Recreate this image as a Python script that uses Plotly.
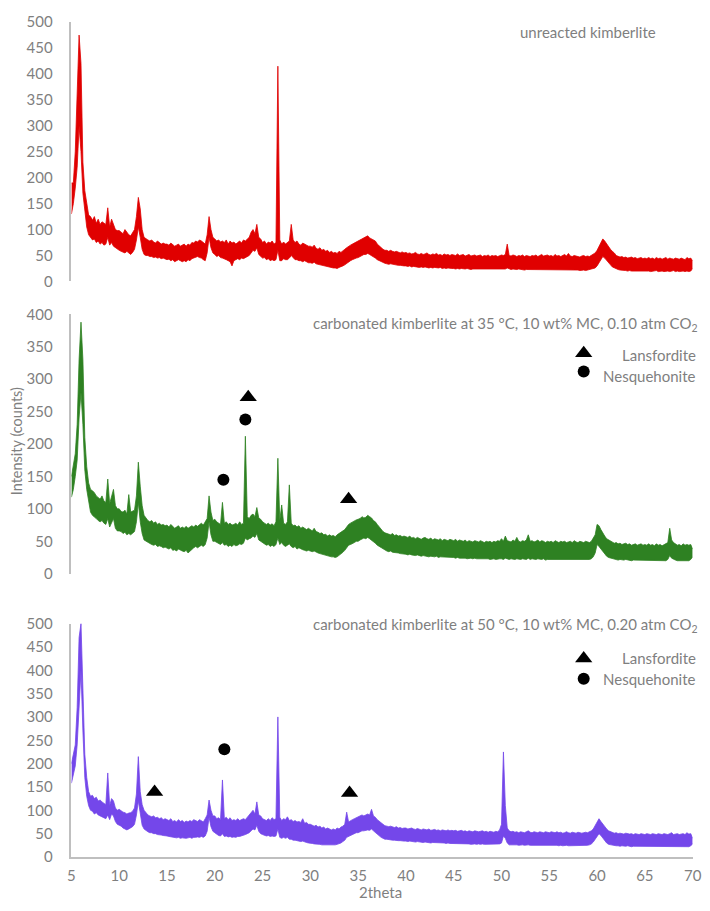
import numpy as np
import plotly.graph_objects as go

# 2theta sampling grid (degrees), 0.2 step from 5 to 70
two_theta = np.round(np.arange(5.0, 70.0001, 0.2), 1)

# unreacted kimberlite: upper and lower edge of the noisy trace (counts)
unreacted_hi = [
    190, 190, 250, 380, 475, 420, 230, 175, 150, 128, 125, 118, 125, 112, 120, 110, 115, 112, 110, 142, 105, 120, 110, 100, 98,
    98, 95, 92, 100, 95, 90, 88, 95, 100, 125, 162, 140, 100, 85, 82, 80, 78, 80, 76, 74, 78, 75, 72, 74, 72,
    72, 70, 74, 70, 68, 70, 72, 68, 70, 72, 68, 72, 70, 75, 74, 78, 76, 80, 78, 75, 72, 90, 125, 100, 85,
    82, 78, 80, 76, 78, 75, 80, 72, 78, 74, 76, 72, 75, 78, 74, 80, 78, 82, 85, 95, 100, 92, 110, 85, 82,
    75, 78, 72, 76, 74, 78, 72, 75, 415, 80, 72, 76, 72, 75, 78, 110, 80, 75, 78, 72, 70, 74, 72, 70, 68,
    68, 66, 70, 64, 62, 65, 60, 62, 58, 60, 56, 58, 55, 56, 54, 58, 56, 60, 62, 65, 68, 70, 72, 74, 76,
    78, 80, 82, 84, 85, 88, 84, 82, 80, 78, 72, 68, 65, 62, 60, 60, 58, 60, 58, 57, 58, 56, 55, 57, 55,
    56, 54, 55, 53, 54, 56, 53, 52, 54, 52, 53, 55, 52, 51, 53, 52, 54, 51, 52, 50, 53, 51, 52, 50, 52,
    51, 50, 53, 50, 51, 52, 49, 50, 52, 49, 50, 51, 49, 50, 51, 48, 50, 49, 51, 48, 50, 49, 50, 48, 50,
    51, 50, 52, 72, 50, 49, 51, 50, 48, 50, 49, 51, 48, 50, 49, 48, 50, 49, 51, 48, 50, 52, 49, 50, 51,
    49, 50, 48, 52, 49, 50, 48, 50, 52, 49, 54, 49, 48, 50, 49, 48, 47, 49, 50, 48, 49, 48, 50, 52, 55,
    60, 68, 74, 82, 78, 72, 68, 62, 58, 55, 50, 49, 47, 48, 46, 47, 45, 46, 47, 45, 46, 44, 45, 46, 44,
    45, 44, 46, 44, 45, 43, 46, 44, 45, 43, 44, 46, 43, 45, 44, 43, 45, 44, 43, 45, 44, 42, 46, 44, 45,
    40,
]
unreacted_lo = [
    130, 150, 180, 220, 300, 250, 170, 130, 105, 90, 85, 80, 82, 75, 78, 72, 75, 70, 72, 85, 70, 75, 68, 65, 62,
    60, 58, 56, 55, 58, 55, 52, 56, 62, 80, 105, 85, 62, 52, 50, 50, 48, 48, 46, 47, 45, 46, 44, 45, 43,
    42, 43, 40, 42, 38, 40, 42, 40, 38, 40, 38, 42, 40, 44, 45, 46, 48, 46, 45, 42, 40, 55, 85, 65, 55,
    52, 48, 50, 46, 45, 44, 42, 40, 38, 30, 40, 42, 44, 42, 45, 44, 46, 48, 50, 55, 60, 58, 65, 52, 48,
    45, 46, 42, 44, 40, 42, 40, 42, 60, 40, 40, 44, 42, 42, 45, 50, 45, 42, 42, 40, 40, 38, 40, 38, 36,
    36, 35, 37, 34, 33, 32, 32, 30, 30, 28, 28, 27, 26, 26, 25, 27, 28, 30, 32, 35, 38, 40, 42, 44, 45,
    46, 48, 50, 52, 52, 54, 52, 50, 48, 45, 42, 40, 38, 36, 35, 34, 33, 34, 33, 32, 32, 31, 31, 30, 30,
    30, 29, 30, 28, 29, 28, 28, 27, 28, 27, 28, 27, 26, 27, 26, 27, 26, 26, 27, 25, 26, 25, 26, 25, 25,
    25, 24, 25, 24, 25, 24, 24, 25, 24, 23, 24, 24, 23, 24, 23, 24, 23, 23, 24, 23, 24, 23, 23, 24, 23,
    24, 23, 24, 26, 24, 23, 24, 23, 23, 24, 23, 23, 22, 23, 23, 22, 23, 22, 23, 22, 23, 23, 22, 23, 23,
    23, 22, 23, 23, 22, 23, 22, 22, 23, 22, 23, 22, 22, 23, 22, 22, 21, 22, 22, 21, 22, 22, 23, 24, 26,
    30, 36, 40, 48, 45, 40, 36, 32, 28, 26, 24, 23, 22, 22, 21, 21, 20, 21, 20, 20, 21, 20, 20, 21, 20,
    20, 21, 20, 19, 20, 20, 21, 19, 20, 20, 19, 20, 20, 19, 20, 21, 19, 20, 19, 20, 20, 19, 20, 19, 20,
    25,
]

# carbonated kimberlite, 35 C, 0.10 atm CO2 (counts)
carb35_hi = [
    150, 165, 185, 230, 330, 388, 330, 210, 165, 140, 130, 128, 125, 120, 118, 115, 120, 112, 110, 146, 108, 118, 130, 105, 100,
    100, 96, 95, 98, 92, 122, 95, 96, 98, 120, 172, 135, 105, 90, 86, 82, 80, 82, 78, 80, 76, 78, 75, 76, 74,
    75, 72, 76, 73, 70, 72, 74, 70, 72, 70, 73, 70, 72, 74, 72, 75, 73, 76, 78, 75, 80, 85, 120, 95, 82,
    84, 80, 78, 76, 110, 78, 80, 76, 78, 75, 76, 78, 75, 80, 76, 78, 212, 88, 85, 90, 92, 88, 102, 86, 84,
    80, 78, 76, 78, 75, 77, 74, 80, 178, 82, 106, 78, 76, 80, 137, 78, 74, 75, 72, 74, 70, 72, 70, 68, 70,
    68, 66, 70, 65, 64, 62, 63, 60, 61, 58, 60, 58, 59, 57, 60, 62, 64, 66, 68, 72, 76, 78, 80, 82, 83,
    84, 85, 88, 86, 87, 90, 88, 86, 82, 80, 76, 72, 68, 65, 63, 62, 61, 60, 62, 59, 60, 58, 59, 57, 58,
    57, 56, 58, 55, 56, 54, 56, 55, 53, 55, 56, 54, 53, 55, 52, 54, 53, 52, 54, 51, 53, 52, 51, 53, 52,
    51, 53, 50, 52, 51, 50, 52, 49, 51, 50, 49, 51, 50, 49, 51, 50, 48, 50, 49, 50, 48, 50, 49, 51, 50,
    54, 50, 58, 51, 50, 49, 52, 50, 56, 50, 49, 51, 50, 52, 60, 50, 51, 49, 50, 52, 49, 51, 50, 48, 50,
    49, 50, 48, 51, 49, 48, 50, 49, 50, 48, 49, 50, 48, 51, 49, 48, 50, 49, 48, 50, 49, 48, 50, 55, 60,
    76, 74, 68, 62, 58, 54, 52, 50, 48, 47, 48, 46, 47, 45, 46, 47, 45, 46, 44, 45, 46, 44, 45, 46, 44,
    45, 44, 46, 44, 45, 43, 46, 44, 45, 43, 45, 46, 48, 70, 52, 48, 46, 44, 45, 43, 46, 44, 45, 44, 45,
    38,
]
carb35_lo = [
    118, 130, 150, 175, 240, 280, 230, 160, 130, 110, 95, 90, 88, 85, 82, 80, 82, 78, 76, 85, 72, 78, 85, 70, 66,
    66, 65, 62, 64, 60, 62, 60, 62, 65, 80, 110, 80, 62, 52, 50, 48, 46, 45, 44, 45, 42, 43, 42, 40, 41,
    40, 38, 40, 36, 37, 35, 38, 36, 35, 34, 36, 32, 35, 38, 40, 42, 40, 42, 44, 42, 45, 55, 80, 60, 50,
    50, 48, 46, 45, 48, 44, 45, 42, 44, 42, 45, 43, 44, 46, 45, 47, 55, 52, 54, 55, 58, 56, 62, 52, 50,
    48, 46, 44, 45, 42, 44, 42, 45, 55, 45, 48, 44, 42, 44, 46, 42, 40, 42, 38, 40, 38, 37, 36, 35, 36,
    35, 34, 35, 33, 32, 31, 30, 30, 28, 28, 27, 26, 26, 25, 26, 28, 30, 33, 36, 40, 44, 45, 46, 48, 50,
    50, 52, 54, 55, 54, 56, 54, 52, 50, 47, 44, 42, 40, 38, 36, 35, 34, 35, 33, 33, 32, 32, 31, 31, 30,
    30, 29, 30, 29, 28, 28, 29, 28, 27, 28, 27, 27, 26, 27, 26, 26, 27, 25, 26, 26, 25, 25, 26, 25, 25,
    25, 24, 25, 24, 24, 25, 24, 23, 24, 24, 23, 24, 23, 23, 24, 23, 23, 24, 23, 22, 23, 23, 22, 23, 23,
    23, 22, 24, 23, 22, 23, 22, 22, 23, 22, 22, 23, 22, 22, 24, 22, 23, 22, 22, 23, 22, 22, 23, 21, 22,
    22, 21, 22, 22, 21, 22, 21, 22, 22, 21, 21, 22, 21, 22, 21, 21, 22, 21, 21, 22, 21, 22, 23, 26, 32,
    45, 42, 38, 34, 30, 27, 25, 24, 23, 22, 22, 21, 22, 21, 21, 22, 21, 21, 20, 21, 21, 20, 21, 21, 20,
    20, 21, 20, 20, 21, 20, 20, 21, 20, 20, 21, 20, 22, 28, 24, 22, 21, 20, 20, 21, 20, 20, 21, 20, 22,
    26,
]

# carbonated kimberlite, 50 C, 0.20 atm CO2 (counts)
carb50_hi = [
    200, 222, 240, 320, 470, 500, 360, 220, 170, 140, 130, 132, 125, 128, 120, 122, 118, 115, 112, 180, 110, 125, 120, 105, 100,
    102, 98, 96, 95, 92, 94, 95, 98, 105, 135, 215, 140, 112, 100, 95, 90, 88, 86, 88, 84, 85, 82, 84, 80, 82,
    80, 78, 82, 76, 78, 75, 80, 76, 78, 74, 77, 75, 78, 76, 80, 78, 76, 80, 78, 75, 82, 90, 122, 100, 88,
    88, 82, 84, 80, 165, 82, 85, 80, 84, 78, 80, 78, 82, 78, 80, 82, 80, 85, 88, 95, 100, 92, 118, 90, 88,
    82, 80, 78, 82, 78, 84, 80, 82, 300, 85, 78, 82, 80, 86, 78, 80, 76, 78, 75, 76, 74, 82, 72, 74, 70,
    70, 68, 66, 68, 64, 66, 62, 64, 60, 62, 60, 58, 60, 58, 62, 60, 64, 66, 70, 96, 75, 78, 80, 82, 84,
    86, 88, 90, 88, 90, 92, 90, 102, 88, 85, 80, 76, 72, 70, 67, 66, 65, 66, 64, 63, 65, 62, 63, 61, 62,
    62, 60, 61, 62, 60, 59, 61, 60, 58, 60, 59, 58, 60, 57, 58, 59, 57, 58, 56, 58, 57, 56, 58, 56, 57,
    56, 57, 55, 56, 57, 55, 56, 54, 56, 55, 54, 56, 55, 54, 55, 56, 54, 55, 53, 55, 54, 53, 55, 54, 58,
    70, 225, 110, 62, 56, 54, 55, 53, 54, 52, 54, 53, 52, 54, 56, 53, 52, 54, 53, 52, 54, 53, 52, 54, 53,
    52, 54, 53, 52, 54, 52, 53, 51, 52, 54, 52, 51, 53, 52, 51, 53, 52, 51, 52, 53, 52, 54, 56, 60, 68,
    76, 82, 76, 70, 64, 60, 56, 54, 52, 51, 52, 50, 51, 50, 49, 51, 50, 49, 50, 48, 50, 49, 48, 50, 49,
    48, 50, 49, 48, 50, 49, 48, 50, 49, 48, 50, 49, 48, 50, 52, 48, 49, 50, 48, 49, 50, 48, 52, 49, 50,
    40,
]
carb50_lo = [
    158, 180, 195, 240, 330, 400, 270, 170, 130, 110, 100, 98, 92, 95, 90, 88, 86, 84, 82, 90, 80, 92, 88, 76, 70,
    68, 66, 62, 60, 58, 60, 62, 65, 70, 90, 120, 88, 68, 60, 56, 54, 52, 52, 50, 50, 48, 48, 47, 46, 46,
    45, 44, 43, 42, 42, 41, 42, 40, 41, 40, 40, 41, 42, 40, 42, 42, 43, 42, 44, 42, 45, 55, 85, 65, 55,
    52, 48, 46, 45, 50, 44, 45, 43, 44, 42, 43, 42, 44, 44, 45, 46, 48, 50, 52, 56, 60, 58, 68, 55, 50,
    48, 46, 45, 46, 44, 45, 44, 45, 60, 42, 40, 42, 40, 42, 38, 38, 36, 36, 35, 34, 33, 34, 32, 31, 30,
    30, 29, 28, 28, 27, 27, 26, 26, 25, 26, 25, 25, 26, 26, 27, 28, 30, 33, 36, 42, 44, 46, 48, 50, 52,
    52, 54, 56, 56, 57, 58, 57, 60, 56, 52, 48, 45, 42, 40, 38, 38, 37, 37, 36, 36, 35, 35, 35, 34, 34,
    34, 33, 34, 33, 33, 32, 33, 32, 32, 31, 32, 31, 31, 30, 31, 31, 30, 30, 31, 30, 30, 29, 30, 29, 29,
    29, 29, 28, 29, 28, 28, 29, 28, 28, 27, 28, 28, 27, 28, 27, 28, 27, 27, 28, 27, 27, 27, 28, 27, 28,
    30, 45, 40, 30, 26, 26, 27, 26, 26, 25, 26, 26, 25, 26, 26, 25, 25, 26, 25, 25, 26, 25, 25, 26, 25,
    25, 25, 26, 25, 25, 24, 25, 24, 25, 25, 24, 24, 25, 24, 24, 25, 24, 24, 24, 25, 25, 26, 28, 32, 38,
    45, 50, 46, 40, 34, 30, 27, 26, 25, 24, 24, 24, 23, 24, 23, 23, 24, 23, 22, 23, 23, 22, 23, 23, 22,
    22, 23, 22, 22, 23, 22, 22, 23, 22, 22, 23, 22, 22, 23, 23, 22, 22, 23, 22, 22, 23, 22, 23, 22, 24,
    28,
]

# phase markers (2theta, counts)
mid_lans_x = [23.5, 34.0]
mid_lans_y = [272, 115]
mid_nesq_x = [20.9, 23.2]
mid_nesq_y = [145, 238]
bot_lans_x = [13.7, 34.1]
bot_lans_y = [139, 137]
bot_nesq_x = [21.0]
bot_nesq_y = [231]

x_ticks = [5, 10, 15, 20, 25, 30, 35, 40, 45, 50, 55, 60, 65, 70]

W, H = 710, 911
# picture-pixel -> figure-pixel conversion measured from earlier renders
OFF = 8
SX = 710 / 726
SY = 911 / 927
GREY = "#7f7f7f"
FONT = "Lato"

def pxx(r, cap=708.5):
    p = r / SX - OFF
    return min(p, cap) / W

def py(r):
    return 1 - (r / SY - OFF) / H

x_dom = [pxx(75), pxx(696, cap=701.5)]

fig = go.Figure()

def add_band(lo, hi, color, xa, ya):
    fig.add_trace(go.Scatter(x=two_theta, y=lo, mode="lines",
                             line=dict(color=color, width=0.8), xaxis=xa, yaxis=ya))
    fig.add_trace(go.Scatter(x=two_theta, y=hi, mode="lines", fill="tonexty",
                             fillcolor=color, line=dict(color=color, width=0.8),
                             xaxis=xa, yaxis=ya))

add_band(unreacted_lo, unreacted_hi, "#e00000", "x", "y")
add_band(carb35_lo, carb35_hi, "#2e8122", "x2", "y2")
add_band(carb50_lo, carb50_hi, "#7447ea", "x3", "y3")

tri = dict(symbol="triangle-up", color="black", size=15)
dot = dict(symbol="circle", color="black", size=12)
# middle panel markers
fig.add_trace(go.Scatter(x=mid_lans_x, y=mid_lans_y, mode="markers", marker=tri, xaxis="x2", yaxis="y2"))
fig.add_trace(go.Scatter(x=mid_nesq_x, y=mid_nesq_y, mode="markers", marker=dot, xaxis="x2", yaxis="y2"))
fig.add_trace(go.Scatter(x=[58.6], y=[340], mode="markers", marker=tri, xaxis="x2", yaxis="y2"))
fig.add_trace(go.Scatter(x=[58.6], y=[312], mode="markers", marker=dot, xaxis="x2", yaxis="y2"))
# bottom panel markers
fig.add_trace(go.Scatter(x=bot_lans_x, y=bot_lans_y, mode="markers", marker=tri, xaxis="x3", yaxis="y3"))
fig.add_trace(go.Scatter(x=bot_nesq_x, y=bot_nesq_y, mode="markers", marker=dot, xaxis="x3", yaxis="y3"))
fig.add_trace(go.Scatter(x=[58.6], y=[425], mode="markers", marker=tri, xaxis="x3", yaxis="y3"))
fig.add_trace(go.Scatter(x=[58.6], y=[382], mode="markers", marker=dot, xaxis="x3", yaxis="y3"))

axis_common = dict(range=[5, 70], domain=x_dom, showgrid=False, zeroline=False,
                   tickvals=x_ticks, tickfont=dict(family=FONT, size=15, color=GREY))
yaxis_common = dict(showgrid=False, zeroline=False, showline=True, linecolor="#bfbfbf",
                    linewidth=1.5, ticks="", ticklabelstandoff=14,
                    tickfont=dict(family=FONT, size=15, color=GREY))

fig.update_layout(
    width=W, height=H,
    margin=dict(l=0, r=0, t=0, b=0),
    paper_bgcolor="white", plot_bgcolor="white",
    showlegend=False,
    xaxis=dict(anchor="y", showticklabels=False, showline=False, **axis_common),
    xaxis2=dict(anchor="y2", showticklabels=False, showline=False, **axis_common),
    xaxis3=dict(anchor="y3", showticklabels=True, showline=True, linecolor="#bfbfbf",
                linewidth=1.5, ticks="", ticklabelstandoff=4, ticklabeloverflow="allow",
                **axis_common),
    yaxis=dict(anchor="x", domain=[py(280), py(20)], range=[0, 500], dtick=50, **yaxis_common),
    yaxis2=dict(anchor="x2", domain=[py(573), py(313)], range=[0, 400], dtick=50, **yaxis_common),
    yaxis3=dict(anchor="x3", domain=[py(857), py(623)], range=[0, 500], dtick=50, **yaxis_common),
)

tfont = dict(family=FONT, size=15, color=GREY)
ann = [
    dict(text="unreacted kimberlite", x=pxx(590), y=py(30), xanchor="center", yanchor="middle"),
    dict(text="carbonated kimberlite at 35 °C, 10 wt% MC, 0.10 atm CO<sub>2</sub>",
         x=pxx(703), y=py(323), xanchor="right", yanchor="middle"),
    dict(text="Lansfordite", x=pxx(699), y=py(354), xanchor="right", yanchor="middle"),
    dict(text="Nesquehonite", x=pxx(699), y=py(375), xanchor="right", yanchor="middle"),
    dict(text="carbonated kimberlite at 50 °C, 10 wt% MC, 0.20 atm CO<sub>2</sub>",
         x=pxx(703), y=py(624), xanchor="right", yanchor="middle"),
    dict(text="Lansfordite", x=pxx(699), y=py(658), xanchor="right", yanchor="middle"),
    dict(text="Nesquehonite", x=pxx(699), y=py(679), xanchor="right", yanchor="middle"),
    dict(text="2theta", x=pxx(383), y=0, xanchor="center", yanchor="bottom"),
    dict(text="Intensity (counts)", x=pxx(20), y=py(440), xanchor="center", yanchor="middle",
         textangle=-90, font=dict(family=FONT, size=14.5, color=GREY)),
]
for a in ann:
    a.setdefault("font", tfont)
    fig.add_annotation(xref="paper", yref="paper", showarrow=False, **a)

fig.write_html("out.html")
